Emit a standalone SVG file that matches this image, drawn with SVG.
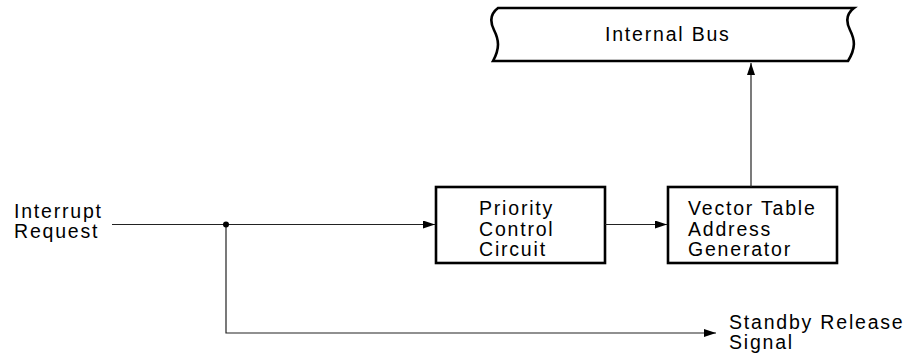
<svg xmlns="http://www.w3.org/2000/svg" width="910" height="354" viewBox="0 0 910 354">
<defs>
<style>
text{font-family:"Liberation Sans",Arial,Helvetica,sans-serif;font-size:19.5px;letter-spacing:1.8px;fill:#000}
.box{fill:#fff;stroke:#000;stroke-width:2.6}
.wire{fill:none;stroke:#222;stroke-width:1.2}
</style>
<marker id="arr" viewBox="0 0 12 8" refX="12" refY="4" markerWidth="12" markerHeight="8" markerUnits="userSpaceOnUse" orient="auto">
<path d="M0,0 L12,4 L0,8 Z" fill="#000"/>
</marker>
</defs>
<g id="bus">
<path class="box" d="M498,8 H854 C846,14 846,22 850,30 C855,40 856,48 848,61 H493 C500,48 499,40 494,30 C490,22 490,14 498,8 Z"/>
<text x="605" y="41">Internal Bus</text>
</g>
<g id="priority">
<rect class="box" x="436" y="187" width="169" height="76"/>
<text x="479" y="214.5">Priority</text>
<text x="479" y="235.5">Control</text>
<text x="479" y="256">Circuit</text>
</g>
<g id="vector">
<rect class="box" x="668" y="187" width="169" height="76"/>
<text x="688" y="214.5">Vector Table</text>
<text x="688" y="235.5">Address</text>
<text x="688" y="256">Generator</text>
</g>
<g id="interrupt">
<text x="14" y="218">Interrupt</text>
<text x="14" y="238">Request</text>
</g>
<g id="standby">
<text x="729" y="328.5">Standby Release</text>
<text x="729" y="348.5">Signal</text>
</g>
<g id="connectors">
<line class="wire" x1="112" y1="224.5" x2="435" y2="224.5" marker-end="url(#arr)"/>
<line class="wire" x1="605" y1="224.5" x2="667" y2="224.5" marker-end="url(#arr)"/>
<line class="wire" x1="751" y1="187" x2="751" y2="63" marker-end="url(#arr)"/>
<polyline class="wire" points="226,224.5 226,333 716,333" marker-end="url(#arr)"/>
<circle cx="226" cy="224.5" r="3" fill="#000"/>
</g>
</svg>
